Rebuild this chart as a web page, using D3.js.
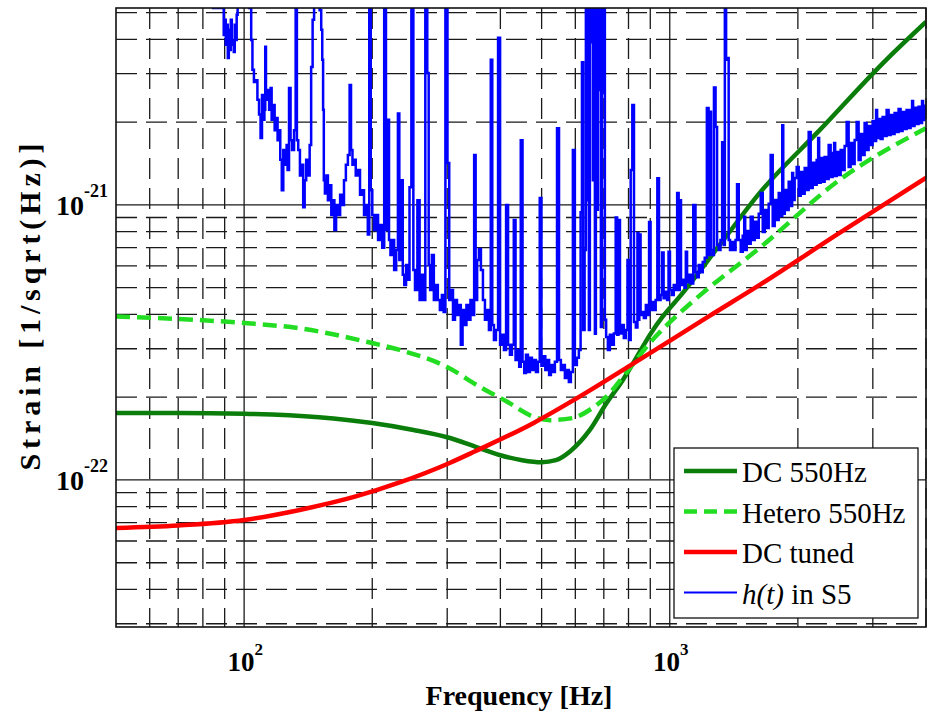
<!DOCTYPE html>
<html><head><meta charset="utf-8">
<script src="https://cdn.jsdelivr.net/npm/d3@7/dist/d3.min.js"></script>
<style>
body{margin:0;background:#fff}
svg{display:block}
</style>
</head><body>
<svg id="chart" width="929" height="714"></svg>
<script>
// ---------------- data ----------------
const dc550Freq   = [50, 70, 100, 150, 200, 250, 300, 350, 400, 450, 500, 540, 583, 649, 710, 776, 837, 898, 963, 1055, 1310, 1627, 2250, 3226, 4000];
const dc550Strain = [1.75e-22, 1.75e-22, 1.74e-22, 1.69e-22, 1.61e-22, 1.52e-22, 1.43e-22, 1.32e-22, 1.23e-22, 1.18e-22, 1.16e-22, 1.18e-22, 1.27e-22, 1.52e-22, 1.90e-22, 2.31e-22, 2.80e-22, 3.37e-22, 3.93e-22, 4.64e-22, 7.15e-22, 1.106e-21, 1.87e-21, 3.37e-21, 4.63e-21];

const heteroFreq   = [50, 70, 100, 135, 194, 232, 299, 358, 414, 477, 523, 592, 649, 710, 794, 898, 1034, 1196, 1627, 2506, 4000];
const heteroStrain = [3.93e-22, 3.85e-22, 3.72e-22, 3.56e-22, 3.18e-22, 2.97e-22, 2.58e-22, 2.18e-22, 1.93e-22, 1.70e-22, 1.65e-22, 1.68e-22, 1.80e-22, 2.01e-22, 2.48e-22, 3.15e-22, 3.93e-22, 4.79e-22, 6.98e-22, 1.233e-21, 1.90e-21];

const tunedFreq   = [50, 70, 100, 135, 183, 232, 304, 348, 479, 604, 808, 1240, 1627, 2506, 4000];
const tunedStrain = [6.69e-23, 6.83e-23, 7.15e-23, 7.78e-23, 8.71e-23, 9.79e-23, 1.153e-22, 1.269e-22, 1.612e-22, 1.979e-22, 2.609e-22, 3.95e-22, 5.12e-22, 7.91e-22, 1.254e-21];

const s5Freq = [80, 89.3, 89.8, 90.3, 90.8, 91.3, 91.8, 92.3, 92.8, 93.3, 93.8, 94.3, 94.8, 95.3, 95.8, 96.3, 96.8, 98, 102,
 103.5, 104.3, 104.9, 106, 107.1, 107.8, 109, 109.6, 110.7, 111.3, 111.9, 112.3, 112.8, 113.9, 115.1, 115.7, 116.4, 117.6, 118.3, 119.5, 120.2, 121.1, 122.1, 123.1, 124.1, 125.5, 126.2, 126.8, 128.2, 128.9, 130.3, 131.7, 132.6, 133.5, 134.5, 136, 137.1, 138.2, 139.3, 140.5, 142, 143.1, 144.3, 145.4, 146.6, 149.6, 151.3, 152.2, 153, 153.6, 154.2, 155.4, 156.7, 158, 159.6, 160.9, 162.3, 163.6, 165.3, 167.2, 169, 170.8, 172.5, 174.3, 176.3, 177.6, 179, 180.4, 181.9, 183.9, 186.2, 188.2, 190.3, 192.3, 194.5, 196, 197.6, 199.2, 200.9, 203.1, 205.3, 207.5, 209.9, 212.2, 214.5, 216.3, 218.1, 219.9, 221.5, 223.9, 226.4, 228.9, 230.7, 232.4, 235, 236.8, 238.9, 241.4, 244, 245.3, 249, 250.6, 253.5, 257.2, 259.6, 261.7, 264.6, 268.4, 270.3, 272.5, 274.6, 277.6, 280.6, 283.6, 286.8, 289.9, 293.1, 295.4, 298.8, 302.1, 304.5, 307.9, 311.2, 314.6, 318, 321.4, 324.4, 327.6, 331.1, 334.7, 338.4, 342, 345.7, 348.5, 351.3, 354.2, 358.1, 362, 366, 369.9, 374, 378, 381.5, 384.2, 388.4, 392.6, 397.5, 401.2, 405.6, 410, 415.1, 418.9, 423.5, 428.1, 432.1, 436.3, 441.1, 444.6, 448.7, 453.2, 456.9, 461.9, 466.8, 471.9, 477, 482.3, 487.5, 492.7, 497.2, 501.8, 507.3, 512.8, 518.5, 522.9, 528.5, 534.3, 540.1, 546.8, 551.9, 557.9, 564, 570.1, 576.2, 582.6, 588.9, 595.3, 601.8, 608.3, 614.9, 619.9, 623.9, 628.3, 633.5, 637, 640.4, 643.9, 647.4, 650.9, 654.5, 658, 661.6, 665.2, 668.8, 672.4, 676.1, 679.7, 683.4, 687.1, 690.8, 694.6, 698.3, 702.1, 705.9,
 711.7, 719.4, 727.1, 735, 743, 749.8, 755.1, 760.4, 767.5, 775.8, 784.2, 792.8, 798.4, 805.8, 813.2, 820.2, 827.9, 836.8, 842.6, 845.8, 850.6, 857.5, 864.5, 874, 883.4, 890.6, 897.8, 905.1, 912.5, 922.4, 931, 939.2, 947.8, 955.6, 963.4, 971.2, 981.8, 990, 997, 1005.4, 1016.3, 1027.4, 1035.7, 1046, 1052.8, 1058.5, 1067, 1078.6, 1087.4, 1094.4, 1102, 1114.2, 1126.3, 1144.8, 1154.1, 1163.5, 1176.1, 1188.9, 1201.8, 1214.8, 1229.9, 1238, 1246, 1254.8, 1265, 1275.4, 1287.2, 1296.3, 1310.5, 1321.2, 1334.2, 1342.9, 1351.7, 1361.2, 1370.9, 1379.9, 1391.2, 1406.5, 1421.8, 1433.4, 1445,
 1460, 1476, 1492, 1500, 1508, 1525, 1541, 1558, 1575, 1592, 1610, 1627, 1645, 1663, 1681, 1699, 1717, 1736, 1755, 1774, 1793, 1813, 1833, 1843, 1853, 1873, 1893, 1913, 1934, 1944, 1955, 1976, 1998, 2020, 2042, 2064, 2086, 2109, 2132, 2155, 2179, 2202, 2226, 2238, 2250, 2275, 2299, 2324, 2350, 2375, 2401, 2427, 2440, 2454, 2480, 2507, 2535, 2562, 2590, 2618, 2646, 2675, 2704, 2734, 2763, 2793, 2824, 2854, 2885, 2917, 2948, 2980, 3013, 3046, 3062, 3079, 3112, 3146, 3180, 3215, 3250, 3285, 3321, 3357, 3393, 3430, 3467, 3505, 3543, 3582, 3621, 3660, 3700, 3720, 3740, 3780, 3822, 3863, 3905, 3926, 3948, 3990, 4050];
const s5Strain = [8e-21, 5.2e-21, 4.15e-21, 4.71e-21, 3.82e-21, 4.52e-21, 3.42e-21, 4.33e-21, 3.66e-21, 4.71e-21, 3.82e-21, 3.98e-21, 3.60e-21, 4.52e-21, 3.98e-21, 4.91e-21, 5.4e-21, 8e-21, 8e-21,
 5.2e-21, 3.98e-21, 3.10e-21, 2.80e-21, 2.84e-21, 2.41e-21, 2.13e-21, 1.75e-21, 2.51e-21, 2.04e-21, 2.22e-21, 3.76e-21, 2.41e-21, 2.62e-21, 2.22e-21, 2.66e-21, 2.04e-21, 2.31e-21, 1.87e-21, 2.07e-21, 1.72e-21, 1.87e-21, 1.46e-21, 1.13e-21, 1.585e-21, 1.40e-21, 1.65e-21, 1.34e-21, 2.66e-21, 1.72e-21, 1.585e-21, 1.87e-21, 7e-21, 1.72e-21, 1.585e-21, 1.28e-21, 1.40e-21, 9.8e-22, 1.23e-21, 1.46e-21, 1.28e-21, 1.65e-21, 3.17e-21, 4.71e-21, 6e-21, 7e-21, 5.1e-21, 4.33e-21, 3.37e-21, 2.22e-21, 1.23e-21, 1.10e-21, 1.28e-21, 1.04e-21, 1.18e-21, 9.2e-22, 1.04e-21, 8.1e-22, 1.0e-21, 9.2e-22, 1.09e-21, 1.0e-21, 1.23e-21, 1.40e-21, 1.52e-21, 2.73e-21, 1.585e-21, 1.40e-21, 1.46e-21, 1.28e-21, 1.34e-21, 1.09e-21, 1.13e-21, 9.2e-22, 1.0e-21, 7.8e-22, 7e-21, 1.13e-21, 9.2e-22, 8.1e-22, 9.2e-22, 7.46e-22, 8.46e-22, 6.98e-22, 7e-21, 8.1e-22, 2.04e-21, 7.46e-22, 6.58e-22, 7.46e-22, 5.8e-22, 6.86e-22, 2.15e-21, 6.31e-22, 1.23e-21, 5.57e-22, 5.12e-22, 6.05e-22, 5.34e-22, 1.16e-21, 7e-21, 5.80e-22, 4.91e-22, 1.04e-21, 4.51e-22, 5.57e-22, 4.51e-22, 7e-21, 3.02e-21, 6.05e-22, 4.91e-22, 6.58e-22, 4.51e-22, 5.12e-22, 4.51e-22, 4.15e-22, 4.70e-22, 4.08e-22, 7e-21, 1.42e-21, 4.51e-22, 4.91e-22, 3.82e-22, 4.51e-22, 3.98e-22, 4.33e-22, 3.10e-22, 4.15e-22, 3.66e-22, 4.33e-22, 3.82e-22, 4.51e-22, 3.98e-22, 1.52e-21, 4.51e-22, 6.31e-22, 6.92e-22, 5.8e-22, 4.51e-22, 3.82e-22, 4.15e-22, 3.51e-22, 3.37e-21, 3.66e-22, 3.23e-22, 3.51e-22, 4.05e-21, 3.10e-22, 3.37e-22, 2.97e-22, 1.0e-21, 3.10e-22, 2.85e-22, 3.10e-22, 8.82e-22, 2.73e-22, 2.97e-22, 2.58e-22, 1.72e-21, 2.69e-22, 2.45e-22, 2.85e-22, 2.47e-22, 2.78e-22, 2.51e-22, 2.73e-22, 2.47e-22, 2.69e-22, 1.06e-21, 2.60e-22, 2.82e-22, 2.51e-22, 2.73e-22, 2.41e-22, 2.62e-22, 2.47e-22, 2.69e-22, 1.90e-21, 2.73e-22, 2.51e-22, 2.62e-22, 2.35e-22, 2.51e-22, 2.27e-22, 2.47e-22, 1.585e-21, 2.62e-22, 2.78e-22, 2.97e-22, 9.4e-22, 3.30e-21, 3.51e-22, 6.86e-22, 7e-21, 1.04e-21, 7e-21, 3.51e-22, 7e-21, 3.9e-21, 7e-21, 1.23e-21, 7e-21, 3.4e-22, 7e-21, 9.6e-22, 7e-21, 2.62e-21, 7e-21, 3.6e-22, 7e-21, 2.55e-21, 7e-21, 3.82e-22,
 3.31e-22, 2.97e-22, 3.37e-22, 3.10e-22, 3.41e-22, 9.0e-22, 3.37e-22, 8.82e-22, 3.41e-22, 3.66e-22, 3.28e-22, 3.51e-22, 6.31e-22, 3.23e-22, 1.34e-21, 2.31e-21, 3.75e-22, 3.58e-22, 7.9e-22, 3.82e-22, 7.8e-22, 3.98e-22, 4.08e-22, 3.88e-22, 4.33e-22, 3.98e-22, 8.66e-22, 4.15e-22, 4.44e-22, 4.15e-22, 4.51e-22, 1.25e-21, 4.51e-22, 4.70e-22, 6.72e-22, 4.58e-22, 4.83e-22, 4.51e-22, 6.76e-22, 4.91e-22, 4.70e-22, 5.12e-22, 4.91e-22, 1.105e-21, 4.91e-22, 1.04e-21, 5.12e-22, 5.34e-22, 5.00e-22, 6.76e-22, 5.23e-22, 5.57e-22, 5.18e-22, 1.0e-21, 5.69e-22, 5.46e-22, 6.05e-22, 5.69e-22, 6.20e-22, 6.42e-22, 2.25e-21, 6.58e-22, 2.18e-21, 6.86e-22, 6.58e-22, 2.67e-21, 1.92e-21, 7.15e-22, 6.86e-22, 7.46e-22, 1.69e-21, 7.15e-22, 7e-21, 3.37e-21, 3.42e-21, 7.46e-22, 6.86e-22, 7.33e-22, 6.86e-22, 7.46e-22, 1.19e-21,
 7.46e-22, 6.75e-22, 7.72e-22, 9.05e-22, 6.86e-22, 8.04e-22, 7.22e-22, 9.05e-22, 7.46e-22, 8.68e-22, 7.59e-22, 9.28e-22, 1.106e-21, 7.98e-22, 9.59e-22, 8.25e-22, 1.009e-21, 1.52e-21, 8.39e-22, 1.043e-21, 8.82e-22, 1.106e-21, 9.12e-22, 1.95e-21, 9.28e-22, 1.134e-21, 9.59e-22, 1.213e-21, 9.92e-22, 1.307e-21, 1.043e-21, 1.254e-21, 1.374e-21, 1.079e-21, 1.318e-21, 1.097e-21, 1.363e-21, 1.134e-21, 1.843e-21, 1.153e-21, 1.422e-21, 1.183e-21, 1.458e-21, 1.752e-21, 1.203e-21, 1.482e-21, 1.213e-21, 1.495e-21, 1.243e-21, 1.653e-21, 1.264e-21, 1.546e-21, 1.681e-21, 1.275e-21, 1.559e-21, 1.286e-21, 1.585e-21, 1.341e-21, 1.639e-21, 2.003e-21, 1.374e-21, 1.681e-21, 1.410e-21, 1.723e-21, 2.003e-21, 1.458e-21, 1.812e-21, 1.520e-21, 1.986e-21, 1.585e-21, 1.937e-21, 1.653e-21, 2.020e-21, 1.709e-21, 2.215e-21, 1.752e-21, 2.054e-21, 1.737e-21, 2.089e-21, 1.782e-21, 2.215e-21, 1.797e-21, 2.125e-21, 1.812e-21, 2.161e-21, 1.843e-21, 2.234e-21, 1.858e-21, 2.179e-21, 1.889e-21, 2.215e-21, 1.905e-21, 2.215e-21, 2.389e-21, 1.937e-21, 2.254e-21, 1.970e-21, 2.273e-21, 1.986e-21, 2.389e-21, 2.037e-21, 2.292e-21, 2.2e-21];

const xMajorTicks = [100, 1000];
const xTickExponents = ["2", "3"];
const xMinorTicks = [60, 70, 80, 90, 200, 300, 400, 500, 600, 700, 800, 900, 2000, 3000, 4000];
const yMajorTicks = [1e-22, 1e-21];
const yTickExponents = ["-22", "-21"];
const yMinorTicks = [3e-23, 4e-23, 5e-23, 6e-23, 7e-23, 8e-23, 9e-23, 2e-22, 3e-22, 4e-22, 5e-22, 6e-22, 7e-22, 8e-22, 9e-22, 2e-21, 3e-21, 4e-21, 5e-21];

const seriesNames = ["DC 550Hz", "Hetero 550Hz", "DC tuned", "h(t) in S5"];

// ---------------- drawing ----------------
const FONT = '"Liberation Serif"';
const L = 116, R = 926, T = 8, B = 627;
const svg = d3.select("#chart");
svg.append("rect").attr("width", 929).attr("height", 714).attr("fill", "#fff");

const x = d3.scaleLog().domain([50, 4000]).range([L, R]);
const y = d3.scaleLog().domain([2.92e-23, 5.2e-21]).range([B, T]);

svg.append("defs").append("clipPath").attr("id", "plotclip")
  .append("rect").attr("x", L).attr("y", T).attr("width", R - L).attr("height", B - T);

const grid = svg.append("g");
const gridColor = "#1a1a1a";
grid.selectAll(".vminor").data(xMinorTicks).join("line")
  .attr("x1", d => x(d)).attr("x2", d => x(d)).attr("y1", T).attr("y2", B)
  .attr("stroke", gridColor).attr("stroke-width", 1.3).attr("stroke-dasharray", "21,9");
grid.selectAll(".hminor").data(yMinorTicks).join("line")
  .attr("y1", d => y(d)).attr("y2", d => y(d)).attr("x1", L).attr("x2", R)
  .attr("stroke", gridColor).attr("stroke-width", 1.3).attr("stroke-dasharray", "21,9");
grid.selectAll(".vmajor").data(xMajorTicks).join("line")
  .attr("x1", d => x(d)).attr("x2", d => x(d)).attr("y1", T).attr("y2", B)
  .attr("stroke", gridColor).attr("stroke-width", 1.3);
grid.selectAll(".hmajor").data(yMajorTicks).join("line")
  .attr("y1", d => y(d)).attr("y2", d => y(d)).attr("x1", L).attr("x2", R)
  .attr("stroke", gridColor).attr("stroke-width", 1.3);

// axes (positions only; labels drawn below with superscripts)
const xAxis = d3.axisBottom(x).tickValues(xMajorTicks).tickSize(0).tickFormat("");
const yAxis = d3.axisLeft(y).tickValues(yMajorTicks).tickSize(0).tickFormat("");
svg.append("g").attr("transform", `translate(0,${B})`).call(xAxis).select(".domain").remove();
svg.append("g").attr("transform", `translate(${L},0)`).call(yAxis).select(".domain").remove();

const plot = svg.append("g").attr("clip-path", "url(#plotclip)");
const zip = (f, s) => f.map((v, i) => [v, s[i]]);
const smooth = d3.line().x(d => x(d[0])).y(d => y(d[1])).curve(d3.curveMonotoneX);
const step = d3.line().x(d => x(d[0])).y(d => y(d[1])).curve(d3.curveStep);

const colDC = "#0a7d0a", colHet = "#22dd22", colTuned = "#ff0000", colS5 = "#0000ff";

plot.append("path").attr("d", smooth(zip(dc550Freq, dc550Strain)))
  .attr("fill", "none").attr("stroke", colDC).attr("stroke-width", 4.5);
plot.append("path").attr("d", smooth(zip(heteroFreq, heteroStrain)))
  .attr("fill", "none").attr("stroke", colHet).attr("stroke-width", 4.5).attr("stroke-dasharray", "14,7");
plot.append("path").attr("d", smooth(zip(tunedFreq, tunedStrain)))
  .attr("fill", "none").attr("stroke", colTuned).attr("stroke-width", 4.5);
plot.append("path").attr("d", step(zip(s5Freq, s5Strain)))
  .attr("fill", "none").attr("stroke", colS5).attr("stroke-width", 2.5).attr("stroke-linejoin", "miter");

// frame
svg.append("rect").attr("x", L).attr("y", T).attr("width", R - L).attr("height", B - T)
  .attr("fill", "none").attr("stroke", "#111").attr("stroke-width", 1.6);

// tick labels
xMajorTicks.forEach((v, i) => {
  const t = svg.append("text").attr("x", x(v) + 1).attr("y", 671)
    .style("font-family", FONT).attr("text-anchor", "middle").attr("font-weight", "bold").attr("fill", "#000");
  t.append("tspan").attr("font-size", 27).text("10");
  t.append("tspan").attr("font-size", 17).attr("dy", -16).text(xTickExponents[i]);
});
yMajorTicks.forEach((v, i) => {
  const t = svg.append("text").attr("x", 108).attr("y", y(v) + 10)
    .style("font-family", FONT).attr("text-anchor", "end").attr("font-weight", "bold").attr("fill", "#000");
  t.append("tspan").attr("font-size", 28).text("10");
  t.append("tspan").attr("font-size", 18).attr("dy", -18).text(yTickExponents[i]);
});

// axis titles
svg.append("text").attr("x", 519).attr("y", 705).attr("text-anchor", "middle")
  .style("font-family", FONT).attr("font-weight", "bold").attr("font-size", 28).attr("fill", "#000")
  .text("Frequency [Hz]");
svg.append("text").attr("transform", "translate(40,307) rotate(-90)")
  .style("font-family", FONT).attr("text-anchor", "middle").attr("font-weight", "bold").attr("font-size", 30)
  .attr("fill", "#000").attr("textLength", 327).attr("lengthAdjust", "spacing")
  .text("Strain [1/sqrt(Hz)]");

// legend
const lg = svg.append("g");
lg.append("rect").attr("x", 674).attr("y", 448).attr("width", 244).attr("height", 170)
  .attr("fill", "#fff").attr("stroke", "#111").attr("stroke-width", 1.3);
const legendStyles = [
  {c: colDC, w: 4.5, dash: null},
  {c: colHet, w: 4.5, dash: "13,7"},
  {c: colTuned, w: 4.5, dash: null},
  {c: colS5, w: 2.2, dash: null}
];
seriesNames.forEach((name, i) => {
  const cy = 471 + i * 40.5;
  const st = legendStyles[i];
  lg.append("line").attr("x1", 684).attr("x2", 737).attr("y1", cy).attr("y2", cy)
    .attr("stroke", st.c).attr("stroke-width", st.w).attr("stroke-dasharray", st.dash);
  const t = lg.append("text").attr("x", 742).attr("y", cy + 11).attr("font-size", 29)
    .style("font-family", FONT).attr("fill", "#000");
  if (name.startsWith("h(t)")) {
    t.append("tspan").attr("font-style", "italic").text("h(t)");
    t.append("tspan").text(name.slice(4));
  } else {
    t.text(name);
  }
});
</script>
</body></html>
